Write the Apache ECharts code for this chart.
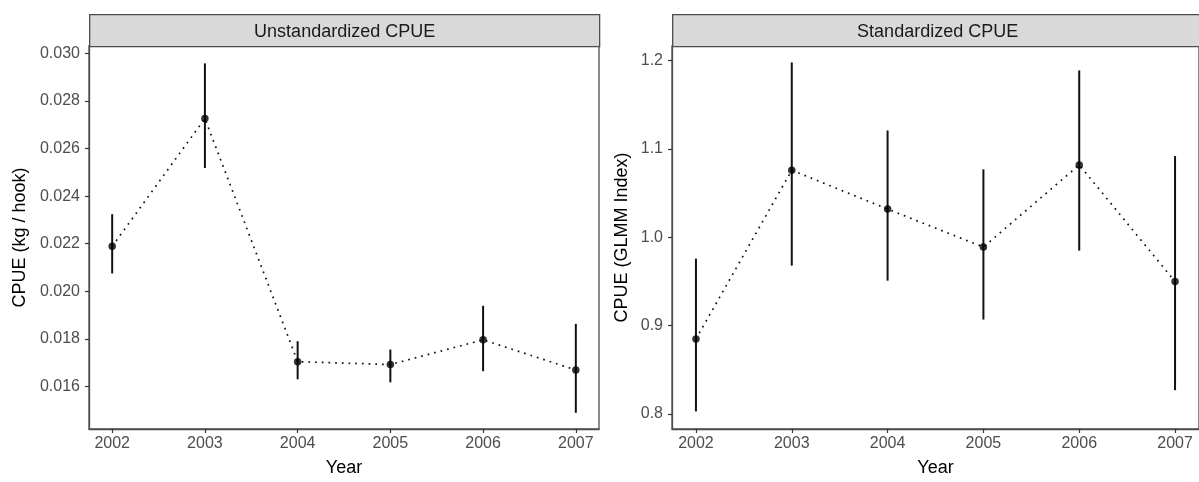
<!DOCTYPE html>
<html>
<head>
<meta charset="utf-8">
<script src="https://cdn.jsdelivr.net/npm/echarts@6/dist/echarts.min.js"></script>
<style>
  html, body { margin: 0; padding: 0; background: #fff; }
  #chart { width: 1199px; height: 482px; }
</style>
</head>
<body>
<div id="chart"></div>
<script>
// years and tick labels
const years = [2002, 2003, 2004, 2005, 2006, 2007];
const rawTicks = [0.016, 0.018, 0.020, 0.022, 0.024, 0.026, 0.028, 0.030];
const stdTicks = [0.8, 0.9, 1.0, 1.1, 1.2];

// unstandardized CPUE (kg / hook)
const rawMean = [0.02189, 0.02726, 0.01704, 0.01692, 0.01796, 0.01669];
const rawLow  = [0.02075, 0.02518, 0.01630, 0.01617, 0.01664, 0.01489];
const rawHigh = [0.02324, 0.02958, 0.01790, 0.01755, 0.01939, 0.01863];

// standardized CPUE (GLMM index)
const stdMean = [0.885, 1.076, 1.032, 0.989, 1.082, 0.950];
const stdLow  = [0.803, 0.968, 0.951, 0.907, 0.985, 0.827];
const stdHigh = [0.976, 1.198, 1.121, 1.077, 1.189, 1.092];

const myChart = echarts.init(document.getElementById('chart'));
const font = 'Liberation Sans, Arial, sans-serif';

function xAxisOf(gridIndex) {
    return {
        type: 'value',
        gridIndex: gridIndex,
        min: 2001.75,
        max: 2007.25,
        name: 'Year',
        nameLocation: 'middle',
        nameGap: 30,
        nameTextStyle: {color: '#000', fontSize: 18, fontFamily: font},
        axisLine: {show: true, onZero: false, lineStyle: {color: '#4d4d4d', width: 1.3}},
        axisTick: {show: true, length: 4, customValues: years, lineStyle: {color: '#333', width: 1.2}},
        axisLabel: {customValues: years, color: '#4d4d4d', fontSize: 16, fontFamily: font, margin: 7,
            formatter: v => String(Math.round(v))},
        splitLine: {show: false}
    };
}

function yAxisOf(gridIndex, min, max, ticks, name, gap, digits) {
    return {
        type: 'value',
        gridIndex: gridIndex,
        min: min,
        max: max,
        name: name,
        nameLocation: 'middle',
        nameGap: gap,
        nameRotate: 90,
        nameTextStyle: {color: '#000', fontSize: 18, fontFamily: font},
        axisLine: {show: true, onZero: false, lineStyle: {color: '#4d4d4d', width: 1.3}},
        axisTick: {show: true, length: 4, customValues: ticks, lineStyle: {color: '#333', width: 1.2}},
        axisLabel: {customValues: ticks, color: '#4d4d4d', fontSize: 16, fontFamily: font, margin: 9,
            formatter: v => v.toFixed(digits)},
        splitLine: {show: false}
    };
}

function errorBars(idx, low, high) {
    return {
        type: 'custom',
        xAxisIndex: idx,
        yAxisIndex: idx,
        data: years.map((y, i) => [y, low[i], high[i]]),
        renderItem: function (params, api) {
            const a = api.coord([api.value(0), api.value(1)]);
            const b = api.coord([api.value(0), api.value(2)]);
            return {
                type: 'line',
                shape: {x1: a[0], y1: a[1], x2: b[0], y2: b[1]},
                style: {stroke: '#111', lineWidth: 2}
            };
        },
        z: 3
    };
}

function dotted(idx, mean) {
    return {
        type: 'line',
        xAxisIndex: idx,
        yAxisIndex: idx,
        data: years.map((y, i) => [y, mean[i]]),
        showSymbol: false,
        lineStyle: {color: '#111', width: 1.7, type: [1.7, 5]},
        z: 2
    };
}

function points(idx, mean) {
    return {
        type: 'scatter',
        xAxisIndex: idx,
        yAxisIndex: idx,
        data: years.map((y, i) => [y, mean[i]]),
        symbolSize: 7.5,
        itemStyle: {color: '#000'},
        z: 4
    };
}

function strip(left, width, text) {
    return {
        type: 'group',
        left: left,
        top: 14,
        children: [
            {type: 'rect', shape: {x: 0, y: 0, width: width, height: 32},
                style: {fill: '#d9d9d9', stroke: '#4d4d4d', lineWidth: 1.3}},
            {type: 'text', x: width / 2, y: 17,
                style: {text: text, fill: '#1a1a1a', fontSize: 18, fontFamily: font,
                    align: 'center', verticalAlign: 'middle'}}
        ]
    };
}

let option = {
    backgroundColor: '#fff',
    animation: false,
    grid: [
        {left: 89, right: 600, top: 46, bottom: 51, show: true, borderColor: '#4d4d4d', borderWidth: 1.3},
        {left: 672, right: -3, top: 46, bottom: 51, show: true, borderColor: '#4d4d4d', borderWidth: 1.3}
    ],
    xAxis: [xAxisOf(0), xAxisOf(1)],
    yAxis: [
        yAxisOf(0, 0.01421, 0.03031, rawTicks, 'CPUE (kg / hook)', 60, 3),
        yAxisOf(1, 0.7831, 1.2166, stdTicks, 'CPUE (GLMM Index)', 41, 1)
    ],
    graphic: [
        strip(89, 510, 'Unstandardized CPUE'),
        strip(672, 530, 'Standardized CPUE')
    ],
    series: [
        dotted(0, rawMean), errorBars(0, rawLow, rawHigh), points(0, rawMean),
        dotted(1, stdMean), errorBars(1, stdLow, stdHigh), points(1, stdMean)
    ]
};
option && myChart.setOption(option);
</script>
</body>
</html>
